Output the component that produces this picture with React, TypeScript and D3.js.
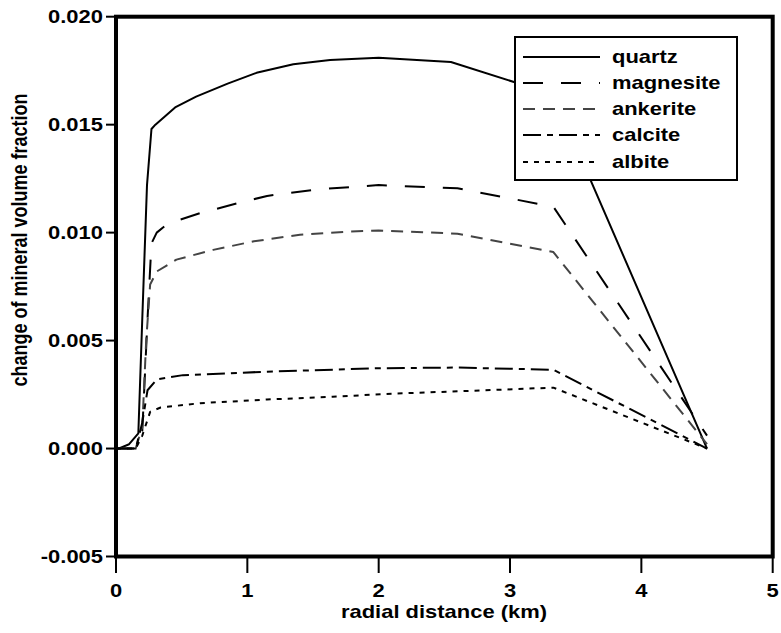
import React from "react";
import * as d3 from "d3";

const xTicks = [0, 1, 2, 3, 4, 5];
const yTicks = [-0.005, 0, 0.005, 0.01, 0.015, 0.02];
const yTickLabels = ["-0.005", "0.000", "0.005", "0.010", "0.015", "0.020"];

const quartzX = [0, 0.1, 0.17, 0.2, 0.236, 0.27, 0.3, 0.45, 0.61, 0.85, 1.07, 1.35, 1.63, 2.0, 2.55, 3.33, 4.5];
const quartzY = [-0.00005, 0.0002, 0.0007, 0.006, 0.0122, 0.0148, 0.015, 0.0158, 0.0163, 0.0169, 0.0174, 0.0178, 0.018, 0.0181, 0.0179, 0.0164, 0];

const magnesiteX = [0, 0.15, 0.2, 0.24, 0.27, 0.31, 0.39, 0.64, 0.95, 1.15, 1.53, 2.0, 2.6, 3.33, 4.5];
const magnesiteY = [0, 0, 0.0008, 0.006, 0.0095, 0.01, 0.0104, 0.0109, 0.0114, 0.0117, 0.012, 0.0122, 0.01205, 0.0112, 0.0006];

const ankeriteX = [0, 0.15, 0.2, 0.23, 0.26, 0.31, 0.46, 0.74, 1.05, 1.4, 1.78, 2.0, 2.6, 3.33, 4.5];
const ankeriteY = [0, 0, 0.001, 0.005, 0.0076, 0.0082, 0.00875, 0.0092, 0.0096, 0.0099, 0.01005, 0.0101, 0.00995, 0.0091, 0.0002];

const calciteX = [0, 0.15, 0.2, 0.24, 0.31, 0.51, 1.15, 2.0, 2.6, 3.33, 4.5];
const calciteY = [0, 0, 0.0012, 0.0027, 0.0032, 0.0034, 0.00356, 0.00372, 0.00375, 0.00365, 0];

const albiteX = [0, 0.15, 0.2, 0.26, 0.34, 0.64, 1.15, 1.65, 2.14, 2.6, 3.33, 4.5];
const albiteY = [0, 0, 0.0006, 0.0017, 0.0019, 0.0021, 0.00227, 0.0024, 0.00255, 0.00265, 0.00282, 0];

const seriesNames = ["quartz", "magnesite", "ankerite", "calcite", "albite"];
const seriesX = [quartzX, magnesiteX, ankeriteX, calciteX, albiteX];
const seriesY = [quartzY, magnesiteY, ankeriteY, calciteY, albiteY];
const seriesColors = ["#000", "#000", "#444", "#000", "#000"];
const seriesDash = ["none", "20,18", "12,8", "18,6,6,6", "5,6"];

const FONT = "'Liberation Sans', Arial, Helvetica, sans-serif";
const SX = 1.22;

export default function App() {
  const left = 116, right = 772.7, top = 16.7, bottom = 556.5;
  const x = d3.scaleLinear().domain([0, 5]).range([left, right]);
  const y = d3.scaleLinear().domain([-0.005, 0.02]).range([bottom, top]);
  const line = d3.line<[number, number]>().x((d) => x(d[0])).y((d) => y(d[1]));

  const legX = 515, legY = 37, legW = 222, legH = 143;
  const rowY = [57, 83, 109, 135, 162];

  return (
    <svg width={781} height={633} style={{ position: "absolute", left: 0, top: 0, background: "#fff" }}
      fontFamily={FONT} fontWeight="bold">
      <rect x={0} y={0} width={781} height={633} fill="#fff" />
      {seriesNames.map((n, i) => (
        <path key={n}
          d={line(seriesX[i].map((xv, j) => [xv, seriesY[i][j]] as [number, number])) || ""}
          fill="none" stroke={seriesColors[i]} strokeWidth={2}
          strokeDasharray={seriesDash[i]} strokeLinejoin="round" />
      ))}
      {/* legend */}
      <rect x={legX} y={legY} width={legW} height={legH} fill="#fff" stroke="#000" strokeWidth={2} />
      {seriesNames.map((n, i) => (
        <g key={n}>
          <line x1={523} x2={600} y1={rowY[i]} y2={rowY[i]} stroke={seriesColors[i]} strokeWidth={2}
            strokeDasharray={seriesDash[i]} />
          <text transform={`translate(612,${rowY[i] + 6}) scale(${SX},1)`} fontSize={18} fill="#000">{n}</text>
        </g>
      ))}
      {/* frame */}
      <rect x={left} y={top} width={right - left} height={bottom - top} fill="none" stroke="#000" strokeWidth={4} />
      {xTicks.map((t) => (
        <g key={t}>
          <line x1={x(t)} x2={x(t)} y1={bottom} y2={573} stroke="#000" strokeWidth={2} />
          <text transform={`translate(${x(t)},597) scale(${SX},1)`} textAnchor="middle" fontSize={18}>{t}</text>
        </g>
      ))}
      {yTicks.map((t, i) => (
        <g key={t}>
          <line x1={106} x2={left} y1={y(t)} y2={y(t)} stroke="#000" strokeWidth={2} />
          <text transform={`translate(103,${y(t) + 6.5}) scale(${SX},1)`} textAnchor="end" fontSize={18}>{yTickLabels[i]}</text>
        </g>
      ))}
      <text transform={`translate(444,618) scale(${SX},1)`} textAnchor="middle" fontSize={18}>radial distance (km)</text>
      <text transform={`translate(27,240) scale(${SX},1) rotate(-90)`} textAnchor="middle" fontSize={18}>change of mineral volume fraction</text>
    </svg>
  );
}
